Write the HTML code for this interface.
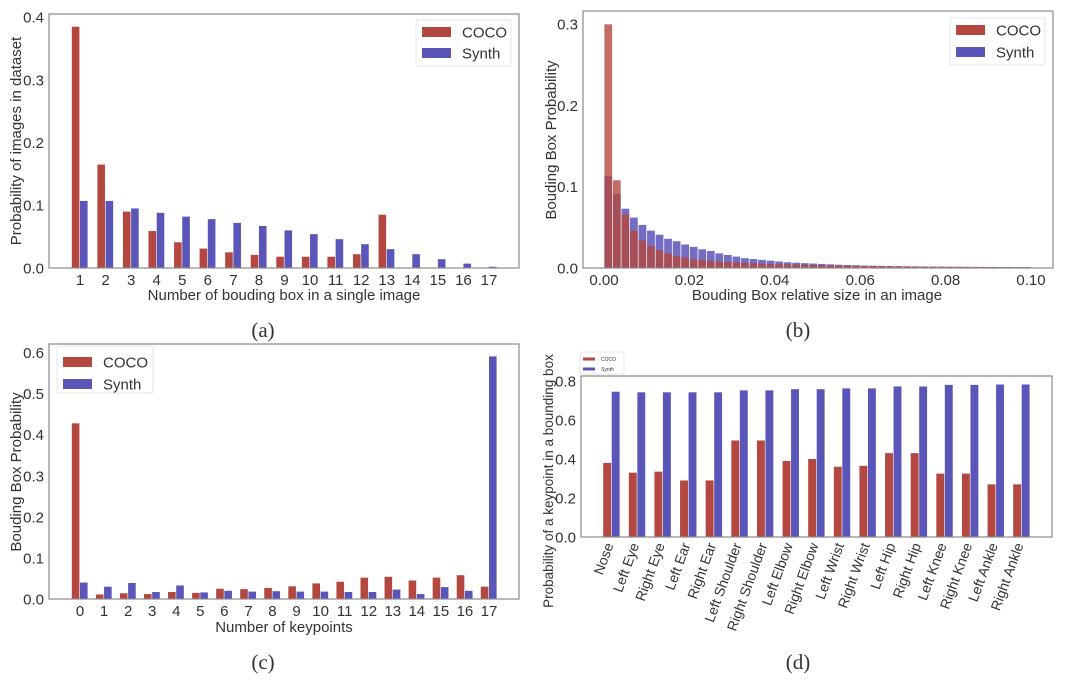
<!DOCTYPE html>
<html><head><meta charset="utf-8"><style>
body{margin:0;background:#fff;}
svg{display:block;font-family:"Liberation Sans",sans-serif;}
</style></head><body>
<svg id="fig" width="1080" height="683" viewBox="0 0 1080 683"></svg>
<script>
const NS='http://www.w3.org/2000/svg';
const svg=document.getElementById('fig');
const COCO_C='#b4473f', SYN_C='#5a55b9';

const aCats=['1','2','3','4','5','6','7','8','9','10','11','12','13','14','15','16','17'];
const aCoco=[.385,.165,.09,.059,.041,.031,.025,.021,.018,.018,.018,.022,.085,0,0,0,0];
const aSynth=[.107,.107,.095,.088,.082,.078,.072,.067,.060,.054,.046,.038,.030,.022,.014,.007,.002];
const aYTicks=[0,0.1,0.2,0.3,0.4];

const bCoco=[.30,.108,.066,.046,.034,.027,.022,.018,.015,.013,.011,.010,.009,.008,.0075,.007,.0065,.006,.0055,.005,.0048,.0045,.0042,.004,.0038,.0035,.0033,.003,.0028,.0026,.0025,.0024,.0023,.0022,.0021,.002,.0019,.0018,.0017,.0016,.0015,.0015,.0014,.0014,.0013,.0013,.0012,.0012,.0011,.0011];
const bSynth=[.113,.091,.073,.062,.053,.046,.041,.036,.033,.029,.026,.023,.021,.018,.016,.014,.012,.011,.010,.009,.008,.007,.0065,.006,.0055,.005,.0045,.004,.0037,.0034,.003,.0028,.0026,.0024,.0022,.002,.0019,.0018,.0017,.0016,.0015,.0014,.0013,.0013,.0012,.0012,.0011,.0011,.001,.001];
const bBinWidth=0.002;
const bXTicks=[0,0.02,0.04,0.06,0.08,0.10];
const bYTicks=[0,0.1,0.2,0.3];

const cCats=['0','1','2','3','4','5','6','7','8','9','10','11','12','13','14','15','16','17'];
const cCoco=[.428,.011,.014,.012,.017,.015,.025,.024,.027,.031,.038,.042,.052,.054,.045,.052,.058,.030];
const cSynth=[.040,.030,.039,.017,.033,.016,.020,.018,.019,.018,.018,.017,.017,.023,.012,.029,.020,.591];
const cYTicks=[0,0.1,0.2,0.3,0.4,0.5,0.6];

const dCats=['Nose','Left Eye','Right Eye','Left Ear','Right Ear','Left Shoulder','Right Shoulder','Left Elbow','Right Elbow','Left Wrist','Right Wrist','Left Hip','Right Hip','Left Knee','Right Knee','Left Ankle','Right Ankle'];
const dCoco=[.38,.33,.335,.29,.29,.495,.495,.39,.40,.36,.365,.43,.43,.325,.325,.27,.27];
const dSynth=[.745,.742,.742,.742,.742,.752,.752,.758,.758,.762,.762,.772,.772,.78,.78,.782,.782];
const dYTicks=[0,0.2,0.4,0.6,0.8];

function el(tag,attrs,parent,text){const e=document.createElementNS(NS,tag);for(const k in attrs)e.setAttribute(k,attrs[k]);if(text!==undefined)e.textContent=text;(parent||svg).appendChild(e);return e;}

function frame(g,L,R,T,B){
  const r=el('rect',{x:L,y:T,width:R-L,height:B-T,fill:'none',stroke:'#8a8a8a','stroke-width':1.2},g);
  
  
}
function yAxis(g,L,yf,ticks,fs,fmt){
  ticks.forEach(t=>{
    const tx=el('text',{x:L-5,y:yf(t)+fs*0.36,'text-anchor':'end','font-size':fs,fill:'#333'},g,fmt(t));
    
    
  });
}
function label(g,x,y,txt,fs,rot,name,family){
  const t=el('text',{x:x,y:y,'text-anchor':'middle','font-size':fs,fill:'#333'},g,txt);
  if(family)t.setAttribute('font-family',family);
  if(rot)t.setAttribute('transform',`rotate(${rot} ${x} ${y})`);
  
  
}
function legend(g,x,y,w,h,fs,pw,ph,rows,px,tx){
  const box=el('rect',{x:x,y:y,width:w,height:h,fill:'#fff',stroke:'#e4e4e4','stroke-width':1,rx:2},g);
  
  
  rows.forEach((r,i)=>{
    const p=el('rect',{x:px,y:r.y-ph/2,width:pw,height:ph,fill:r.c},g);
    
    
    const t=el('text',{x:tx,y:r.y+fs*0.36,'font-size':fs,fill:'#333'},g,r.t);
    
    
  });
}
function groupedBars(g,cats,coco,synth,xf,yf,bw,B){
  cats.forEach((c,i)=>{
    const cx=xf(i);
    const r1=el('rect',{x:cx-bw,y:yf(coco[i]),width:bw-0.6,height:B-yf(coco[i]),fill:COCO_C},g);
    
    
    const r2=el('rect',{x:cx,y:yf(synth[i]),width:bw-0.6,height:B-yf(synth[i]),fill:SYN_C},g);
    
    
  });
}
const f1=t=>t.toFixed(1);

// Panel A
(function(){
  const g=el('g',{});
  const L=49,R=519,T=14,B=268;
  const yf=v=>B-v*(B-17.3)/0.4;
  const xf=i=>80+i*(489-80)/(aCats.length-1);
  groupedBars(g,aCats,aCoco,aSynth,xf,yf,8.2,B);
  frame(g,L,R,T,B);
  yAxis(g,L,yf,aYTicks,15,f1);
  aCats.forEach((c,i)=>{const t=el('text',{x:xf(i),y:B+17,'text-anchor':'middle','font-size':15,fill:'#333'},g,c);});
  label(g,284,300,'Number of bouding box in a single image',15,0,'x-axis-title');
  label(g,21,141,'Probability of images in dataset',15,-90,'y-axis-title');
  label(g,263,337,'(a)',21,0,'panel-caption-a','"Liberation Serif",serif');
  legend(g,416,20,95,46,15,29,10,[{y:32,c:COCO_C,t:'COCO'},{y:53,c:SYN_C,t:'Synth'}],422,462);
})();

// Panel B
(function(){
  const g=el('g',{});
  const L=583,R=1053,T=11,B=268;
  const yf=v=>B-v*(B-24.3)/0.3;
  const xf=v=>604+v*(1031-604)/0.1;
  bSynth.forEach((v,i)=>{const r=el('rect',{x:xf(i*bBinWidth)+0.4,y:yf(v),width:xf(bBinWidth)-xf(0)-0.8,height:B-yf(v),fill:'#5a55b9','fill-opacity':0.85},g);});
  bCoco.forEach((v,i)=>{const r=el('rect',{x:xf(i*bBinWidth)+0.4,y:yf(v),width:xf(bBinWidth)-xf(0)-0.8,height:B-yf(v),fill:'#b4473f','fill-opacity':0.8},g);});
  frame(g,L,R,T,B);
  yAxis(g,L,yf,bYTicks,15,f1);
  bXTicks.forEach(t=>{const x=el('text',{x:xf(t),y:B+17,'text-anchor':'middle','font-size':15,fill:'#333'},g,t.toFixed(2));});
  label(g,817,300,'Bouding Box relative size in an image',15,0,'x-axis-title');
  label(g,556,140,'Bouding Box Probability',15,-90,'y-axis-title');
  label(g,798,337,'(b)',21,0,'panel-caption-b','"Liberation Serif",serif');
  legend(g,950,18,95,47,15,29,10,[{y:30,c:COCO_C,t:'COCO'},{y:52,c:SYN_C,t:'Synth'}],956,996);
})();

// Panel C
(function(){
  const g=el('g',{});
  const L=49,R=519,T=344,B=599;
  const yf=v=>B-v*(B-352.7)/0.6;
  const xf=i=>80+i*(489-80)/(cCats.length-1);
  groupedBars(g,cCats,cCoco,cSynth,xf,yf,8.2,B);
  frame(g,L,R,T,B);
  yAxis(g,L,yf,cYTicks,15,f1);
  cCats.forEach((c,i)=>{const t=el('text',{x:xf(i),y:B+17,'text-anchor':'middle','font-size':15,fill:'#333'},g,c);});
  label(g,284,632,'Number of keypoints',15,0,'x-axis-title');
  label(g,21,472,'Bouding Box Probability',15,-90,'y-axis-title');
  label(g,263,669,'(c)',21,0,'panel-caption-c','"Liberation Serif",serif');
  legend(g,57,346,96,47,15,29,10,[{y:362,c:COCO_C,t:'COCO'},{y:384,c:SYN_C,t:'Synth'}],63,103);
})();

// Panel D
(function(){
  const g=el('g',{});
  const L=581,R=1052,T=376,B=537;
  const yf=v=>B-v*(B-381)/0.8;
  const xf=i=>611.7+i*(1021.7-611.7)/(dCats.length-1);
  groupedBars(g,dCats,dCoco,dSynth,xf,yf,8.5,B);
  frame(g,L,R,T,B);
  yAxis(g,L,yf,dYTicks,15,f1);
  dCats.forEach((c,i)=>{const x=xf(i)+2,y=B+8;const t=el('text',{x:x,y:y,'text-anchor':'end','font-size':14,fill:'#333',transform:`rotate(-70 ${x} ${y})`},g,c);});
  label(g,553,481,'Probability of a keypoint in a bounding box',13.5,-90,'y-axis-title');
  label(g,798,669,'(d)',21,0,'panel-caption-d','"Liberation Serif",serif');
  legend(g,580,352,44,22,5,12,3,[{y:359,c:COCO_C,t:'COCO'},{y:369,c:SYN_C,t:'Synth'}],583,601);
})();
</script>
</body></html>
